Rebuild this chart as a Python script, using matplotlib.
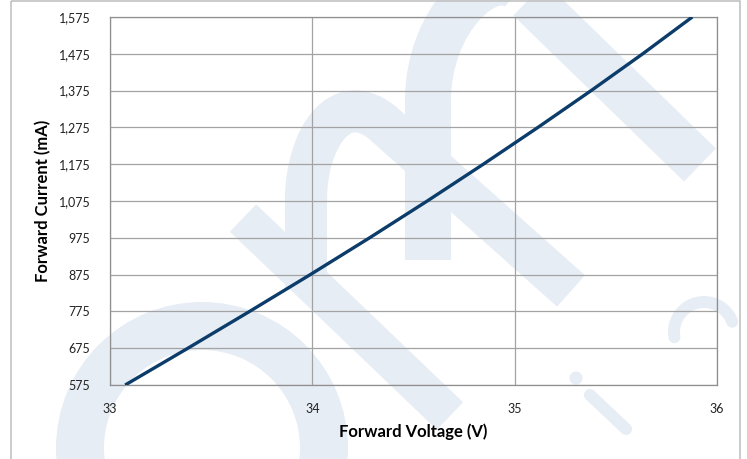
import matplotlib
matplotlib.use("Agg")
import matplotlib.pyplot as plt
import numpy as np
from matplotlib.patches import Wedge, Circle, Rectangle, PathPatch
from matplotlib.path import Path

# data (voltage at each current gridline)
forward_current_ma = [575, 675, 775, 875, 975, 1075, 1175, 1275, 1375, 1475, 1575]
forward_voltage_v = [33.075, 33.385, 33.690, 33.990, 34.283, 34.568,
                     34.845, 35.115, 35.378, 35.633, 35.878]

x_ticks = [33, 34, 35, 36]
y_ticks = [575, 675, 775, 875, 975, 1075, 1175, 1275, 1375, 1475, 1575]

W, H = 747, 459
LINE_COLOR = "#0b3c6a"
GRID_COLOR = "#a3a3a3"
MARK_COLOR = "#e7edf5"
FONT = ["Lato", "DejaVu Sans"]

plt.rcParams["font.family"] = FONT

fig = plt.figure(figsize=(W / 100, H / 100), dpi=100)
fig.patch.set_facecolor("white")

# faint logo watermark behind the chart, in pixel coordinates
bg = fig.add_axes([0, 0, 1, 1], zorder=0)
bg.set_xlim(0, W)
bg.set_ylim(H, 0)
bg.axis("off")
px = 0.72  # points per pixel at 100 dpi

bg.add_patch(Wedge((202, 448), 146, 0, 360, width=48, color=MARK_COLOR, lw=0))
bg.plot([243, 450], [218, 416], color=MARK_COLOR, lw=38 * px, solid_capstyle="butt")

arch1 = Path([(306, 290), (306, 200), (306, 140), (340, 85), (385, 125), (571, 291)],
             [Path.MOVETO, Path.LINETO, Path.CURVE4, Path.CURVE4, Path.CURVE4, Path.LINETO])
bg.add_patch(PathPatch(arch1, fill=False, ec=MARK_COLOR, lw=42 * px, capstyle="butt", joinstyle="round"))

arch2 = Path([(428, 260), (428, 100), (428, 20), (490, -39), (520, -10), (700, 165)],
             [Path.MOVETO, Path.LINETO, Path.CURVE4, Path.CURVE4, Path.CURVE4, Path.LINETO])
bg.add_patch(PathPatch(arch2, fill=False, ec=MARK_COLOR, lw=46 * px, capstyle="butt", joinstyle="round"))

bg.add_patch(Circle((576, 378), 6.5, color=MARK_COLOR, lw=0))
bg.plot([590, 626], [395, 429], color=MARK_COLOR, lw=12 * px, solid_capstyle="round")
t = np.linspace(np.radians(20), np.radians(190), 40)
bg.plot(704 + 30 * np.cos(t), 332 - 30 * np.sin(t), color=MARK_COLOR, lw=12 * px,
        solid_capstyle="round")

# outer chart border
bg.add_patch(Rectangle((11, 0.8), 729, H + 10, fill=False, ec="#bcbcbc", lw=1.5 * px))

# main plot
left, right, top, bottom = 110, 717, 17, 385
ax = fig.add_axes([left / W, 1 - bottom / H, (right - left) / W, (bottom - top) / H], zorder=1)
ax.set_facecolor("none")

ax.plot(forward_voltage_v, forward_current_ma, color=LINE_COLOR, lw=2.4,
        solid_capstyle="butt", zorder=3)

ax.set_xlim(33, 36)
ax.set_ylim(575, 1575)
ax.set_xticks(x_ticks)
ax.set_yticks(y_ticks)
ax.set_xticklabels([str(v) for v in x_ticks])
ax.set_yticklabels([f"{v:,}" for v in y_ticks])
ax.tick_params(length=0, labelsize=9, colors="#222222")
ax.tick_params(axis="y", pad=14)
ax.tick_params(axis="x", pad=13)

ax.grid(True, color=GRID_COLOR, lw=0.9)
ax.set_axisbelow(True)
for s in ax.spines.values():
    s.set_color("#8f8f8f")
    s.set_linewidth(0.9)

ax.set_xlabel("Forward Voltage (V)", fontsize=12, fontweight="bold", labelpad=6)
ax.set_ylabel("Forward Current (mA)", fontsize=12, fontweight="bold", labelpad=5)

fig.savefig("out.png", dpi=100)
